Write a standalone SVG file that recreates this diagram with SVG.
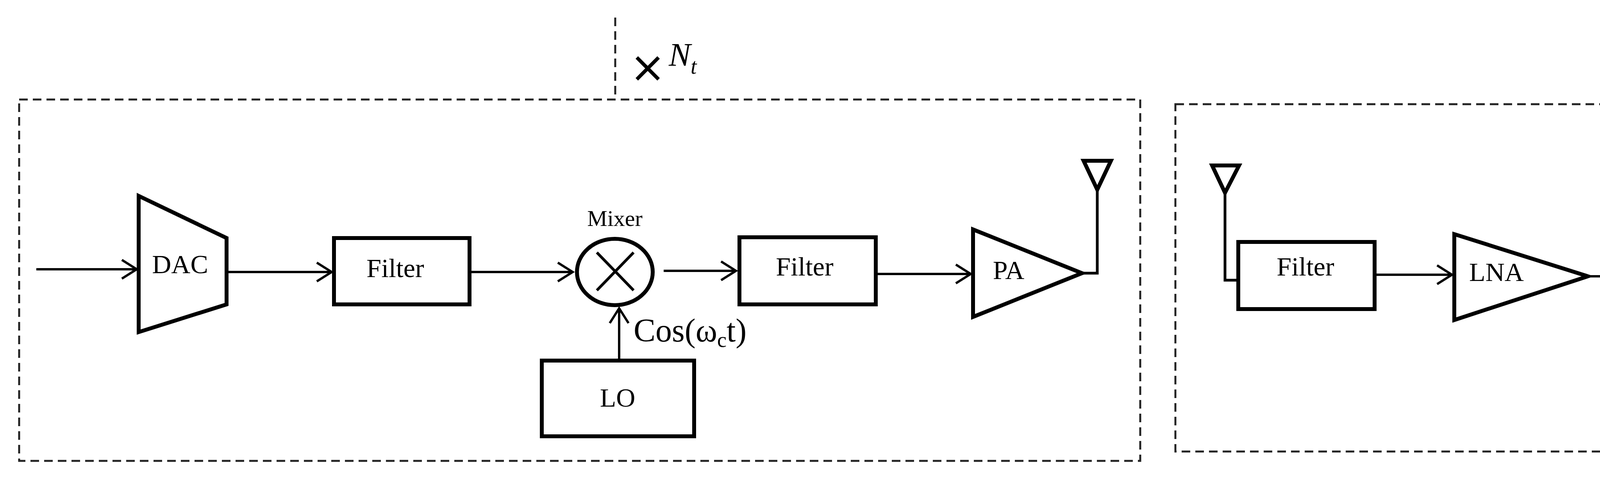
<svg xmlns="http://www.w3.org/2000/svg" width="5928" height="1230" viewBox="0 0 5928 1230">
<defs>
<style>
.sh{fill:#fff;stroke:#000;stroke-width:10;stroke-linejoin:miter}
.ln{fill:none;stroke:#000;stroke-width:7}
.cn{fill:none;stroke:#000;stroke-width:6;marker-end:url(#ah)}
.ds{fill:none;stroke:#222;stroke-width:5;stroke-dasharray:22 13}
.t{font-family:"Liberation Serif","Times New Roman",serif;font-size:68px;text-anchor:middle;fill:#000}
.m{font-family:"Liberation Serif","Times New Roman",serif;font-size:58px;text-anchor:middle;fill:#000}
.c{font-family:"Liberation Serif","Times New Roman",serif;font-size:84px;fill:#000}
.n{font-family:"Liberation Serif","Times New Roman",serif;font-size:84px;font-style:italic;fill:#000}
.x{font-family:"DejaVu Sans",sans-serif;font-size:110px;fill:#000}
</style>
<marker id="ah" markerUnits="userSpaceOnUse" markerWidth="60" markerHeight="60" refX="44" refY="30" orient="auto">
<path d="M6,6 L44,30 L6,54" fill="none" stroke="#000" stroke-width="6"/>
</marker>
</defs>

<g id="frames">
<rect class="ds" x="49" y="255" width="2870" height="926"/>
<line class="ds" x1="1575" y1="45" x2="1575" y2="255"/>
<text class="x" x="1612" y="210">×</text>
<text class="n" x="1712" y="169">N<tspan font-size="56" dy="20">t</tspan></text>
<rect class="ds" x="3009" y="267" width="2864" height="890"/>
<line class="ds" x1="4418" y1="78" x2="4418" y2="275"/>
<text class="x" x="4442" y="220">×</text>
<text class="n" x="4545" y="210">N<tspan font-size="56" dy="16">r</tspan></text>
</g>

<g id="connectors">
<line class="cn" x1="93" y1="690" x2="350" y2="690"/>
<line class="cn" x1="580" y1="697" x2="849" y2="697"/>
<line class="cn" x1="1202" y1="697" x2="1466" y2="697"/>
<line class="cn" x1="1699" y1="694" x2="1884" y2="694"/>
<line class="cn" x1="2242" y1="702" x2="2485" y2="702"/>
<line class="cn" x1="1585" y1="924" x2="1585" y2="790"/>
<polyline class="ln" points="2770,700 2809,700 2809,486"/>
<polyline class="ln" points="3170,718 3136,718 3136,494"/>
<line class="cn" x1="3519" y1="704" x2="3717" y2="704"/>
<line class="cn" x1="4065" y1="708" x2="4198" y2="708"/>
<line class="cn" x1="4418" y1="696" x2="4680" y2="696"/>
<line class="cn" x1="4312" y1="914" x2="4312" y2="793"/>
<line class="cn" x1="5033" y1="698" x2="5158" y2="698"/>
<line class="cn" x1="5324" y1="698" x2="5485" y2="698"/>
<line class="cn" x1="5716" y1="700" x2="5840" y2="700"/>
</g>

<g id="tx-dac"><polygon class="sh" points="355,502 580,610 580,780 355,851"/><text class="t" x="461" y="700">DAC</text></g>
<g id="tx-filter1"><rect class="sh" x="855" y="610" width="347" height="170"/><text class="t" x="1012" y="710">Filter</text></g>
<g id="tx-mixer"><text class="m" x="1574" y="579">Mixer</text><ellipse class="sh" cx="1574" cy="697" rx="97" ry="85"/><path class="ln" d="M1528,647 L1622,744 M1622,647 L1528,744"/></g>
<g id="tx-lo"><rect class="sh" x="1387" y="924" width="390" height="194"/><text class="t" x="1581" y="1042">LO</text><text class="c" x="1622" y="875">Cos(ω<tspan font-size="54" dy="14">c</tspan><tspan dy="-14">t)</tspan></text></g>
<g id="tx-filter2"><rect class="sh" x="1893" y="608" width="349" height="172"/><text class="t" x="2060" y="706">Filter</text></g>
<g id="tx-pa"><polygon class="sh" points="2491,588 2770,700 2491,812"/><text class="t" x="2582" y="715">PA</text></g>
<g id="tx-ant"><polygon class="sh" points="2774,412 2844,412 2809,486"/></g>

<g id="rx-ant"><polygon class="sh" points="3103,424 3172,424 3136,494"/></g>
<g id="rx-filter1"><rect class="sh" x="3170" y="620" width="349" height="172"/><text class="t" x="3342" y="706">Filter</text></g>
<g id="rx-lna"><polygon class="sh" points="3723,600 4065,708 3723,820"/><text class="t" x="3831" y="720">LNA</text></g>
<g id="rx-mixer"><text class="m" x="4318" y="582">Mixer</text><ellipse class="sh" cx="4307" cy="699" rx="101" ry="86"/><path class="ln" d="M4258,650 L4356,747 M4356,650 L4258,747"/></g>
<g id="rx-lo"><rect class="sh" x="4123" y="914" width="391" height="194"/><text class="t" x="4318" y="1028">LO</text><text class="c" x="4358" y="863">Cos(ω<tspan font-size="54" dy="14">c</tspan><tspan dy="-14">t)</tspan></text></g>
<g id="rx-filter2"><rect class="sh" x="4685" y="616" width="348" height="170"/><text class="t" x="4839" y="710">Filter</text></g>
<g id="rx-ifa"><text class="m" x="5213" y="553">IFA</text><polygon class="sh" points="5163,588 5306,700 5163,813"/></g>
<g id="rx-adc"><polygon class="sh" points="5491,516 5716,622 5716,794 5491,863"/><text class="t" x="5582" y="714">ADC</text></g>
</svg>
